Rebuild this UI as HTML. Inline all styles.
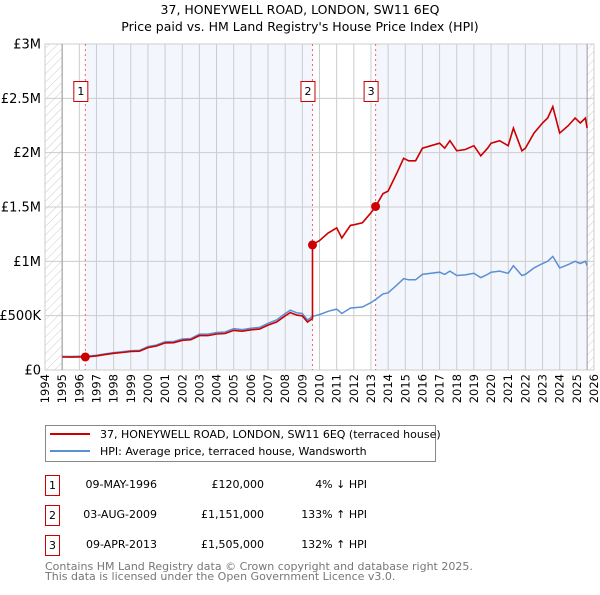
<!DOCTYPE html>
<html><head><meta charset="utf-8"><style>
body{margin:0;background:#fff;font-family:"Liberation Sans","DejaVu Sans",sans-serif;}
svg text{font-family:"DejaVu Sans","Liberation Sans",sans-serif;}
</style></head><body>
<svg id="chart" width="600" height="590" xmlns="http://www.w3.org/2000/svg">
<defs><pattern id="hatch" width="6" height="6" patternUnits="userSpaceOnUse" patternTransform="rotate(45)"><line x1="0" y1="0" x2="0" y2="6" stroke="#ccc" stroke-width="1"/></pattern></defs>
<text x="300" y="14" text-anchor="middle" font-size="12.5" fill="#000">37, HONEYWELL ROAD, LONDON, SW11 6EQ</text>
<text x="300" y="31" text-anchor="middle" font-size="12.5" fill="#000">Price paid vs. HM Land Registry's House Price Index (HPI)</text>
<g id="plot"></g>
<g>
<rect x="45.5" y="425.5" width="390" height="36" fill="#fff" stroke="#888"/>
<line x1="50" y1="434" x2="90" y2="434" stroke="#cc0000" stroke-width="2"/>
<text x="100" y="438" font-size="11">37, HONEYWELL ROAD, LONDON, SW11 6EQ (terraced house)</text>
<line x1="50" y1="451" x2="90" y2="451" stroke="#5b8fd4" stroke-width="2"/>
<text x="100" y="455" font-size="11">HPI: Average price, terraced house, Wandsworth</text>
</g>
<g font-size="11">
<rect x="45.5" y="475.5" width="14" height="20" fill="#fff" stroke="#c00"/><text x="52.5" y="489" text-anchor="middle">1</text>
<text x="157" y="488" text-anchor="end">09-MAY-1996</text><text x="264" y="488" text-anchor="end">£120,000</text><text x="367" y="488" text-anchor="end">4% ↓ HPI</text>
<rect x="45.5" y="505.5" width="14" height="20" fill="#fff" stroke="#c00"/><text x="52.5" y="519" text-anchor="middle">2</text>
<text x="157" y="518" text-anchor="end">03-AUG-2009</text><text x="264" y="518" text-anchor="end">£1,151,000</text><text x="367" y="518" text-anchor="end">133% ↑ HPI</text>
<rect x="45.5" y="535.5" width="14" height="20" fill="#fff" stroke="#c00"/><text x="52.5" y="549" text-anchor="middle">3</text>
<text x="157" y="548" text-anchor="end">09-APR-2013</text><text x="264" y="548" text-anchor="end">£1,505,000</text><text x="367" y="548" text-anchor="end">132% ↑ HPI</text>
</g>
<text x="45" y="570" font-size="11" fill="#777">Contains HM Land Registry data © Crown copyright and database right 2025.</text>
<text x="45" y="580" font-size="11" fill="#777">This data is licensed under the Open Government Licence v3.0.</text>
</svg>
<script>
const hpiYears=[1995,1995.5,1996,1996.35,1997,1997.5,1998,1998.5,1999,1999.5,2000,2000.5,2001,2001.5,2002,2002.5,2003,2003.5,2004,2004.5,2005,2005.5,2006,2006.5,2007,2007.5,2008,2008.3,2008.7,2009,2009.3,2009.6,2010,2010.5,2011,2011.3,2011.8,2012,2012.5,2013,2013.27,2013.7,2014,2014.5,2014.9,2015.2,2015.6,2016,2016.5,2017,2017.3,2017.6,2018,2018.5,2019,2019.4,2019.8,2020,2020.5,2021,2021.3,2021.8,2022,2022.5,2023,2023.3,2023.6,2024,2024.5,2024.9,2025.2,2025.5,2025.6];
const hpiValues=[125,124,126,125,135,148,160,168,178,180,215,230,260,262,285,290,330,330,345,350,380,372,385,392,430,460,520,550,525,520,460,494,510,540,560,520,570,572,580,620,649,700,710,780,840,830,830,880,890,900,880,910,870,875,890,850,880,900,910,890,960,870,880,940,980,1000,1045,940,970,1000,980,1000,960];
const saleYears=[1996.35,2009.59,2013.27];
const salePrices=[120000,1151000,1505000];
const saleLabels=["1","2","3"];
const yTicks=[0,500000,1000000,1500000,2000000,2500000,3000000];
const yTickLabels=["£0","£500K","£1M","£1.5M","£2M","£2.5M","£3M"];
const xTicks=[1994,1995,1996,1997,1998,1999,2000,2001,2002,2003,2004,2005,2006,2007,2008,2009,2010,2011,2012,2013,2014,2015,2016,2017,2018,2019,2020,2021,2022,2023,2024,2025,2026];

const X0=45,X1=594,Y0=370,Y1=44;
const xs=y=>X0+(y-1994)/(2026-1994)*(X1-X0);
const ys=v=>Y0-v/3000000*(Y0-Y1);
const NS="http://www.w3.org/2000/svg";
const plot=document.getElementById('plot');
function mk(tag,attrs,parent){const e=document.createElementNS(NS,tag);for(const k in attrs)e.setAttribute(k,attrs[k]);(parent||plot).appendChild(e);return e;}
function hpiAt(y){for(let i=1;i<hpiYears.length;i++){if(y<=hpiYears[i]){const t=(y-hpiYears[i-1])/(hpiYears[i]-hpiYears[i-1]);return (hpiValues[i-1]+t*(hpiValues[i]-hpiValues[i-1]))*1000;}}return hpiValues[hpiValues.length-1]*1000;}
const hEnd=2025.6;
let r=mk('rect',{x:X0,y:Y1,width:X1-X0,height:Y0-Y1,fill:'#fff',stroke:'#ccc'});

r=mk('rect',{x:xs(saleYears[0]),y:Y1,width:xs(saleYears[1])-xs(saleYears[0]),height:Y0-Y1,fill:'#f3f6fd'});

r=mk('rect',{x:xs(saleYears[2]),y:Y1,width:xs(hEnd)-xs(saleYears[2]),height:Y0-Y1,fill:'#f3f6fd'});

r=mk('rect',{x:X0,y:Y1,width:xs(1995)-X0,height:Y0-Y1,fill:'url(#hatch)'});

r=mk('rect',{x:xs(hEnd),y:Y1,width:X1-xs(hEnd),height:Y0-Y1,fill:'url(#hatch)'});

xTicks.forEach(t=>{const l=mk('line',{x1:xs(t),x2:xs(t),y1:Y1,y2:Y0,stroke:'#ccc','stroke-width':1});

const tx=mk('text',{x:0,y:0,transform:`translate(${xs(t)+4},${Y0+4}) rotate(-90)`,'text-anchor':'end','font-size':11.5});tx.textContent=t;
});
yTicks.forEach((t,i)=>{const l=mk('line',{x1:X0,x2:X1,y1:ys(t),y2:ys(t),stroke:'#ccc','stroke-width':1});

const tx=mk('text',{x:X0-4,y:ys(t)+4.5,'text-anchor':'end','font-size':13});tx.textContent=yTickLabels[i];
});
[xs(1995),xs(hEnd)].forEach(x=>{const l=mk('line',{x1:x,x2:x,y1:Y1,y2:Y0,stroke:'#999'});});
saleYears.forEach((s,i)=>{const l=mk('line',{x1:xs(s),x2:xs(s),y1:Y1,y2:Y0,stroke:'#e66','stroke-dasharray':'2,3','stroke-width':1});

const b=mk('rect',{x:xs(s)-11.5,y:81.5,width:14,height:20,fill:'#fff',stroke:'#c00'});

const t=mk('text',{x:xs(s)-4.5,y:95,'text-anchor':'middle','font-size':11});t.textContent=saleLabels[i];
});
let d=hpiYears.map((y,i)=>(i?'L':'M')+xs(y).toFixed(1)+','+ys(hpiValues[i]*1000).toFixed(1)).join('');
let p=mk('path',{d,fill:'none',stroke:'#5b8fd4','stroke-width':1.5});

const ratios=saleYears.map((s,i)=>salePrices[i]/hpiAt(s));
let pts=[];
hpiYears.forEach((y,i)=>{let k=0;for(let j=0;j<saleYears.length;j++)if(y>=saleYears[j]-1e-6)k=j;
if(i>0&&hpiYears[i-1]<saleYears[1]&&y>=saleYears[1]){pts.push([saleYears[1],hpiAt(saleYears[1])*ratios[0]]);pts.push([saleYears[1],salePrices[1]]);}
if(i>0&&hpiYears[i-1]<saleYears[2]&&y>=saleYears[2])pts.push([saleYears[2],salePrices[2]]);
pts.push([y,hpiValues[i]*1000*ratios[k]]);});
d=pts.map((q,i)=>(i?'L':'M')+xs(q[0]).toFixed(1)+','+ys(q[1]).toFixed(1)).join('');
p=mk('path',{d,fill:'none',stroke:'#cc0000','stroke-width':1.6});

saleYears.forEach((s,i)=>{const c=mk('circle',{cx:xs(s),cy:ys(salePrices[i]),r:4.5,fill:'#cc0000'});
});
</script>
</body></html>
